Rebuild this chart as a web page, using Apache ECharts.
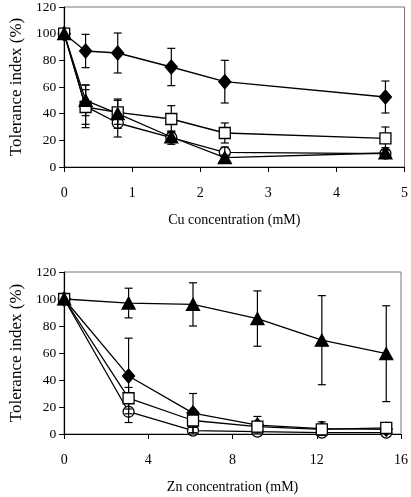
<!DOCTYPE html>
<html>
<head>
<meta charset="utf-8">
<script src="https://cdn.jsdelivr.net/npm/echarts@6/dist/echarts.min.js"></script>
<style>
html,body{margin:0;padding:0;background:#fff;}
#c{width:411px;height:497px;}
</style>
</head>
<body>
<div id="c"></div>
<script>
// ---- data ----
var cuX = [0, 0.315, 0.787, 1.574, 2.36, 4.72];
var znX = [0, 3.06, 6.12, 9.18, 12.24, 15.3];

var cuDiamond = [100, 87, 85.5, 75, 64, 52.5];
var cuDiamondErr = [0, 12.5, 15, 14, 16, 12];
var cuSquare = [100, 45, 41, 36, 25.5, 21.5];
var cuSquareErr = [0, 13, 9, 10, 7.5, 8.5];
var cuCircle = [100, 45.5, 33, 22, 11, 10];
var cuCircleErr = [0, 16, 10.5, 5, 4, 3];
var cuTriangle = [100, 50, 40, 22.5, 7, 10.5];
var cuTriangleErr = [0, 11.5, 11, 4, 2, 4];

var znDiamond = [100, 43, 15.5, 6.5, 4, 3.5];
var znDiamondErr = [0, 28, 14.5, 6.5, 5, 2];
var znSquare = [100, 26.5, 10, 5.5, 3.5, 4.5];
var znSquareErr = [0, 8, 5, 2, 2, 2];
var znCircle = [100, 16.5, 2.5, 1.8, 1, 1];
var znCircleErr = [0, 8, 2.5, 1, 1, 1];
var znTriangle = [100, 97, 96, 85.5, 69.5, 59.5];
var znTriangleErr = [0, 11, 16, 20.5, 33, 35.5];

var cuTicks = {min: 0, max: 5, interval: 1};
var znTicks = {min: 0, max: 16, interval: 4};
var yTicks = {min: 0, max: 120, interval: 20};

// ---- helpers ----
var FONT = '"Liberation Serif", "Times New Roman", serif';

function pairs(xs, ys) { return xs.map(function (x, i) { return [x, ys[i]]; }); }
function errData(xs, ys, es) { return xs.map(function (x, i) { return [x, ys[i] - es[i], ys[i] + es[i]]; }); }

var markers = {
  diamond: {symbol: 'diamond', size: [12, 14], color: '#000', border: '#000', z: 3},
  square: {symbol: 'rect', size: 11, color: '#fff', border: '#000', z: 3},
  circle: {symbol: 'circle', size: 11, color: '#fff', border: '#000', z: 1},
  triangle: {symbol: 'triangle', size: [13, 12], color: '#000', border: '#000', z: 3}
};

function lineSeries(idx, xs, ys, kind) {
  var m = markers[kind];
  return {
    type: 'line', xAxisIndex: idx, yAxisIndex: idx,
    data: pairs(xs, ys),
    symbol: m.symbol, symbolSize: m.size, showAllSymbol: true,
    lineStyle: {color: '#000', width: 1.3},
    itemStyle: {color: m.color, borderColor: m.border, borderWidth: 1.3},
    z: m.z, animation: false, silent: true
  };
}

function errSeries(idx, xs, ys, es) {
  return {
    type: 'custom', xAxisIndex: idx, yAxisIndex: idx,
    data: errData(xs, ys, es),
    renderItem: function (params, api) {
      var lo = api.value(1), hi = api.value(2);
      if (hi - lo <= 0) return null;
      var x = api.value(0);
      var p1 = api.coord([x, lo]);
      var p2 = api.coord([x, hi]);
      var w = 4;
      var st = {stroke: '#000', lineWidth: 1.2};
      return {
        type: 'group',
        children: [
          {type: 'line', shape: {x1: p1[0], y1: p1[1], x2: p2[0], y2: p2[1]}, style: st},
          {type: 'line', shape: {x1: p1[0] - w, y1: p1[1], x2: p1[0] + w, y2: p1[1]}, style: st},
          {type: 'line', shape: {x1: p2[0] - w, y1: p2[1], x2: p2[0] + w, y2: p2[1]}, style: st}
        ]
      };
    },
    z: 2, animation: false, silent: true
  };
}

function xAxis(idx, t, name) {
  return {
    type: 'value', gridIndex: idx, min: t.min, max: t.max, interval: t.interval,
    name: name, nameLocation: 'middle', nameGap: 46,
    nameTextStyle: {fontFamily: FONT, fontSize: 14, color: '#000'},
    axisLine: {show: true, onZero: false, lineStyle: {color: '#000', width: 1.2}},
    axisTick: {show: true, inside: false, length: 5, lineStyle: {color: '#000'}},
    axisLabel: {fontFamily: FONT, fontSize: 14, color: '#000', margin: 19},
    splitLine: {show: false}
  };
}

function yAxis(idx) {
  return {
    type: 'value', gridIndex: idx, min: yTicks.min, max: yTicks.max, interval: yTicks.interval,
    name: 'Tolerance index (%)', nameLocation: 'middle', nameGap: 38, nameRotate: 90,
    nameTextStyle: {fontFamily: FONT, fontSize: 17, color: '#000'},
    axisLine: {show: true, onZero: false, lineStyle: {color: '#000', width: 1.2}},
    axisTick: {show: true, inside: false, length: 5, lineStyle: {color: '#000'}},
    axisLabel: {fontFamily: FONT, fontSize: 13.5, color: '#000', margin: 8},
    splitLine: {show: false}
  };
}

var chart = echarts.init(document.getElementById('c'), null, {renderer: 'canvas'});
chart.setOption({
  backgroundColor: '#fff',
  animation: false,
  grid: [
    {left: 54, right: 4, top: 5, height: 162, show: true, borderColor: '#777', borderWidth: 1, backgroundColor: 'transparent'},
    {left: 54, right: 8, top: 272, height: 162, show: true, borderColor: '#777', borderWidth: 1, backgroundColor: 'transparent'}
  ],
  xAxis: [xAxis(0, cuTicks, 'Cu concentration (mM)'), xAxis(1, znTicks, 'Zn concentration (mM)')],
  yAxis: [yAxis(0), yAxis(1)],
  series: [
    errSeries(0, cuX, cuDiamond, cuDiamondErr),
    errSeries(0, cuX, cuSquare, cuSquareErr),
    errSeries(0, cuX, cuCircle, cuCircleErr),
    errSeries(0, cuX, cuTriangle, cuTriangleErr),
    lineSeries(0, cuX, cuDiamond, 'diamond'),
    lineSeries(0, cuX, cuSquare, 'square'),
    lineSeries(0, cuX, cuCircle, 'circle'),
    lineSeries(0, cuX, cuTriangle, 'triangle'),
    errSeries(1, znX, znDiamond, znDiamondErr),
    errSeries(1, znX, znSquare, znSquareErr),
    errSeries(1, znX, znCircle, znCircleErr),
    errSeries(1, znX, znTriangle, znTriangleErr),
    lineSeries(1, znX, znDiamond, 'diamond'),
    lineSeries(1, znX, znSquare, 'square'),
    lineSeries(1, znX, znCircle, 'circle'),
    lineSeries(1, znX, znTriangle, 'triangle')
  ]
});
</script>
</body>
</html>
